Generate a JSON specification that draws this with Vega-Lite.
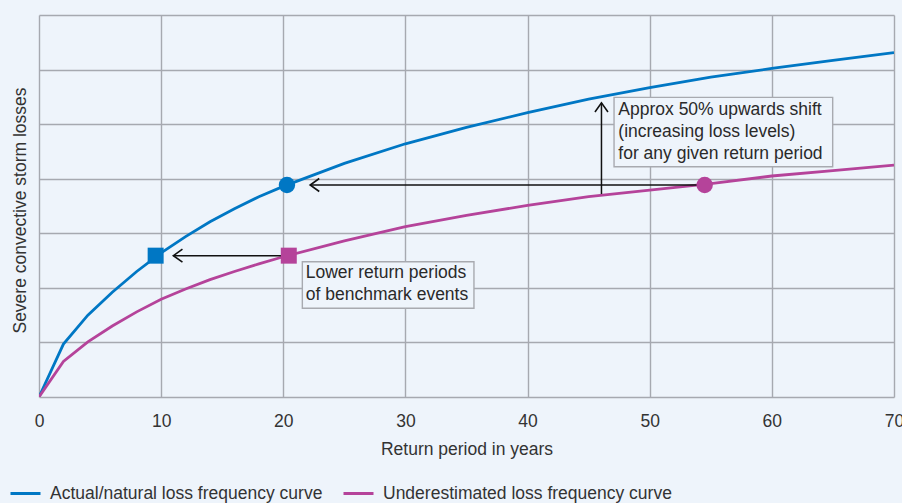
{
  "$schema": "https://vega.github.io/schema/vega-lite/v6.json",
  "width": 855,
  "height": 382,
  "autosize": "none",
  "padding": {"left": 39, "top": 15, "right": 8, "bottom": 106},
  "background": "#EEF4FB",
  "config": {
    "view": {"stroke": null},
    "font": "Liberation Sans",
    "axis": {"gridColor": "#A6A9B0", "gridWidth": 1.4, "gridOpacity": 1}
  },
  "datasets": {
    "curves": [
      {"x": 0, "y": 0, "series": "Actual/natural loss frequency curve"},
      {"x": 2, "y": 0.97, "series": "Actual/natural loss frequency curve"},
      {"x": 4, "y": 1.50, "series": "Actual/natural loss frequency curve"},
      {"x": 6, "y": 1.92, "series": "Actual/natural loss frequency curve"},
      {"x": 8, "y": 2.30, "series": "Actual/natural loss frequency curve"},
      {"x": 10, "y": 2.64, "series": "Actual/natural loss frequency curve"},
      {"x": 12, "y": 2.94, "series": "Actual/natural loss frequency curve"},
      {"x": 14, "y": 3.21, "series": "Actual/natural loss frequency curve"},
      {"x": 16, "y": 3.45, "series": "Actual/natural loss frequency curve"},
      {"x": 18, "y": 3.67, "series": "Actual/natural loss frequency curve"},
      {"x": 20, "y": 3.86, "series": "Actual/natural loss frequency curve"},
      {"x": 25, "y": 4.28, "series": "Actual/natural loss frequency curve"},
      {"x": 30, "y": 4.64, "series": "Actual/natural loss frequency curve"},
      {"x": 35, "y": 4.94, "series": "Actual/natural loss frequency curve"},
      {"x": 40, "y": 5.21, "series": "Actual/natural loss frequency curve"},
      {"x": 45, "y": 5.46, "series": "Actual/natural loss frequency curve"},
      {"x": 50, "y": 5.67, "series": "Actual/natural loss frequency curve"},
      {"x": 55, "y": 5.86, "series": "Actual/natural loss frequency curve"},
      {"x": 60, "y": 6.02, "series": "Actual/natural loss frequency curve"},
      {"x": 65, "y": 6.17, "series": "Actual/natural loss frequency curve"},
      {"x": 70, "y": 6.31, "series": "Actual/natural loss frequency curve"},
      {"x": 0, "y": 0, "series": "Underestimated loss frequency curve"},
      {"x": 2, "y": 0.65, "series": "Underestimated loss frequency curve"},
      {"x": 4, "y": 1.01, "series": "Underestimated loss frequency curve"},
      {"x": 6, "y": 1.30, "series": "Underestimated loss frequency curve"},
      {"x": 8, "y": 1.56, "series": "Underestimated loss frequency curve"},
      {"x": 10, "y": 1.79, "series": "Underestimated loss frequency curve"},
      {"x": 12, "y": 1.98, "series": "Underestimated loss frequency curve"},
      {"x": 14, "y": 2.15, "series": "Underestimated loss frequency curve"},
      {"x": 16, "y": 2.30, "series": "Underestimated loss frequency curve"},
      {"x": 18, "y": 2.44, "series": "Underestimated loss frequency curve"},
      {"x": 20, "y": 2.57, "series": "Underestimated loss frequency curve"},
      {"x": 25, "y": 2.86, "series": "Underestimated loss frequency curve"},
      {"x": 30, "y": 3.12, "series": "Underestimated loss frequency curve"},
      {"x": 35, "y": 3.33, "series": "Underestimated loss frequency curve"},
      {"x": 40, "y": 3.51, "series": "Underestimated loss frequency curve"},
      {"x": 45, "y": 3.67, "series": "Underestimated loss frequency curve"},
      {"x": 50, "y": 3.79, "series": "Underestimated loss frequency curve"},
      {"x": 55, "y": 3.91, "series": "Underestimated loss frequency curve"},
      {"x": 60, "y": 4.05, "series": "Underestimated loss frequency curve"},
      {"x": 65, "y": 4.15, "series": "Underestimated loss frequency curve"},
      {"x": 70, "y": 4.25, "series": "Underestimated loss frequency curve"}
    ],
    "markers": [
      {"x": 20.3, "y": 3.885, "series": "Actual/natural loss frequency curve", "kind": "circle"},
      {"x": 54.5, "y": 3.885, "series": "Underestimated loss frequency curve", "kind": "circle"},
      {"x": 9.55, "y": 2.59, "series": "Actual/natural loss frequency curve", "kind": "square"},
      {"x": 20.45, "y": 2.59, "series": "Underestimated loss frequency curve", "kind": "square"}
    ],
    "arrows": [
      {"x": 20.4, "x2": 11.0, "y": 2.59, "y2": 2.59},
      {"x": 54.0, "x2": 22.2, "y": 3.885, "y2": 3.885},
      {"x": 46.05, "x2": 46.05, "y": 3.72, "y2": 5.39}
    ],
    "heads": [
      {"x": 11.0, "y": 2.59, "dir": "left"},
      {"x": 22.2, "y": 3.885, "dir": "left"},
      {"x": 46.05, "y": 5.39, "dir": "up"}
    ],
    "boxes": [
      {"x": 47.08, "x2": 64.98, "y": 5.49, "y2": 4.22},
      {"x": 21.56, "x2": 35.61, "y": 2.479, "y2": 1.625}
    ],
    "notes": [
      {"x": 47.43, "y": 5.26, "text": "Approx 50% upwards shift\n(increasing loss levels)\nfor any given return period"},
      {"x": 21.84, "y": 2.267, "text": "Lower return periods\nof benchmark events"}
    ]
  },
  "layer": [
    {
      "data": {"name": "curves"},
      "mark": {"type": "line", "strokeWidth": 2.8, "clip": true},
      "encoding": {
        "x": {
          "field": "x", "type": "quantitative",
          "scale": {"domain": [0, 70], "nice": false},
          "axis": {
            "values": [0, 10, 20, 30, 40, 50, 60, 70],
            "grid": true, "domain": false, "ticks": false,
            "labelFlush": false, "labelOverlap": false,
            "labelFontSize": 17.5, "labelColor": "#333333", "labelPadding": 15,
            "labelFont": "Liberation Sans",
            "title": "Return period in years",
            "titleFontSize": 17.5, "titleFontWeight": "normal", "titleColor": "#333333",
            "titleY": 57, "titleBaseline": "alphabetic", "titleFont": "Liberation Sans"
          }
        },
        "y": {
          "field": "y", "type": "quantitative",
          "scale": {"domain": [0, 7], "nice": false},
          "axis": {
            "values": [0, 1, 2, 3, 4, 5, 6, 7],
            "grid": true, "domain": false, "ticks": false, "labels": false,
            "title": "Severe convective storm losses",
            "titleFontSize": 17.5, "titleFontWeight": "normal", "titleColor": "#333333",
            "titleFont": "Liberation Sans",
            "titleAngle": -90, "titleBaseline": "alphabetic", "titleAlign": "center",
            "titleX": -14, "titleY": 195
          }
        },
        "color": {
          "field": "series", "type": "nominal",
          "scale": {
            "domain": ["Actual/natural loss frequency curve", "Underestimated loss frequency curve"],
            "range": ["#0077C4", "#B5439A"]
          },
          "legend": {
            "title": null, "orient": "none", "direction": "horizontal",
            "legendX": -30, "legendY": 462,
            "symbolType": "stroke", "symbolSize": 900, "symbolStrokeWidth": 3,
            "labelFontSize": 17.5, "labelColor": "#333333", "labelFont": "Liberation Sans",
            "labelLimit": 500,
            "labelOffset": 8, "columnPadding": 14
          }
        }
      }
    },
    {
      "data": {"name": "arrows"},
      "mark": {"type": "rule", "color": "#111111", "strokeWidth": 1.5},
      "encoding": {
        "x": {"field": "x", "type": "quantitative"},
        "x2": {"field": "x2"},
        "y": {"field": "y", "type": "quantitative"},
        "y2": {"field": "y2"}
      }
    },
    {
      "data": {"name": "heads"},
      "transform": [{"filter": "datum.dir == 'left'"}],
      "mark": {"type": "point", "shape": "M1.4,-1L0,0L1.4,1", "filled": false, "stroke": "#111111", "strokeWidth": 1.6, "size": 169, "opacity": 1},
      "encoding": {
        "x": {"field": "x", "type": "quantitative"},
        "y": {"field": "y", "type": "quantitative"}
      }
    },
    {
      "data": {"name": "heads"},
      "transform": [{"filter": "datum.dir == 'up'"}],
      "mark": {"type": "point", "shape": "M-1,1.4L0,0L1,1.4", "filled": false, "stroke": "#111111", "strokeWidth": 1.6, "size": 169, "opacity": 1},
      "encoding": {
        "x": {"field": "x", "type": "quantitative"},
        "y": {"field": "y", "type": "quantitative"}
      }
    },
    {
      "data": {"name": "boxes"},
      "mark": {"type": "rect", "fill": "#EEF4FB", "stroke": "#A8AAB0", "strokeWidth": 1.4},
      "encoding": {
        "x": {"field": "x", "type": "quantitative"},
        "x2": {"field": "x2"},
        "y": {"field": "y", "type": "quantitative"},
        "y2": {"field": "y2"}
      }
    },
    {
      "data": {"name": "notes"},
      "mark": {"type": "text", "align": "left", "baseline": "middle", "fontSize": 17.5, "lineHeight": 22, "lineBreak": "\n", "color": "#2A2A2A", "font": "Liberation Sans"},
      "encoding": {
        "x": {"field": "x", "type": "quantitative"},
        "y": {"field": "y", "type": "quantitative"},
        "text": {"field": "text"}
      }
    },
    {
      "data": {"name": "markers"},
      "transform": [{"filter": "datum.kind == 'circle'"}],
      "mark": {"type": "point", "shape": "circle", "filled": true, "opacity": 1, "size": 270},
      "encoding": {
        "x": {"field": "x", "type": "quantitative"},
        "y": {"field": "y", "type": "quantitative"},
        "color": {"field": "series", "type": "nominal", "legend": null}
      }
    },
    {
      "data": {"name": "markers"},
      "transform": [{"filter": "datum.kind == 'square'"}],
      "mark": {"type": "point", "shape": "square", "filled": true, "opacity": 1, "size": 256},
      "encoding": {
        "x": {"field": "x", "type": "quantitative"},
        "y": {"field": "y", "type": "quantitative"},
        "color": {"field": "series", "type": "nominal", "legend": null}
      }
    }
  ]
}
